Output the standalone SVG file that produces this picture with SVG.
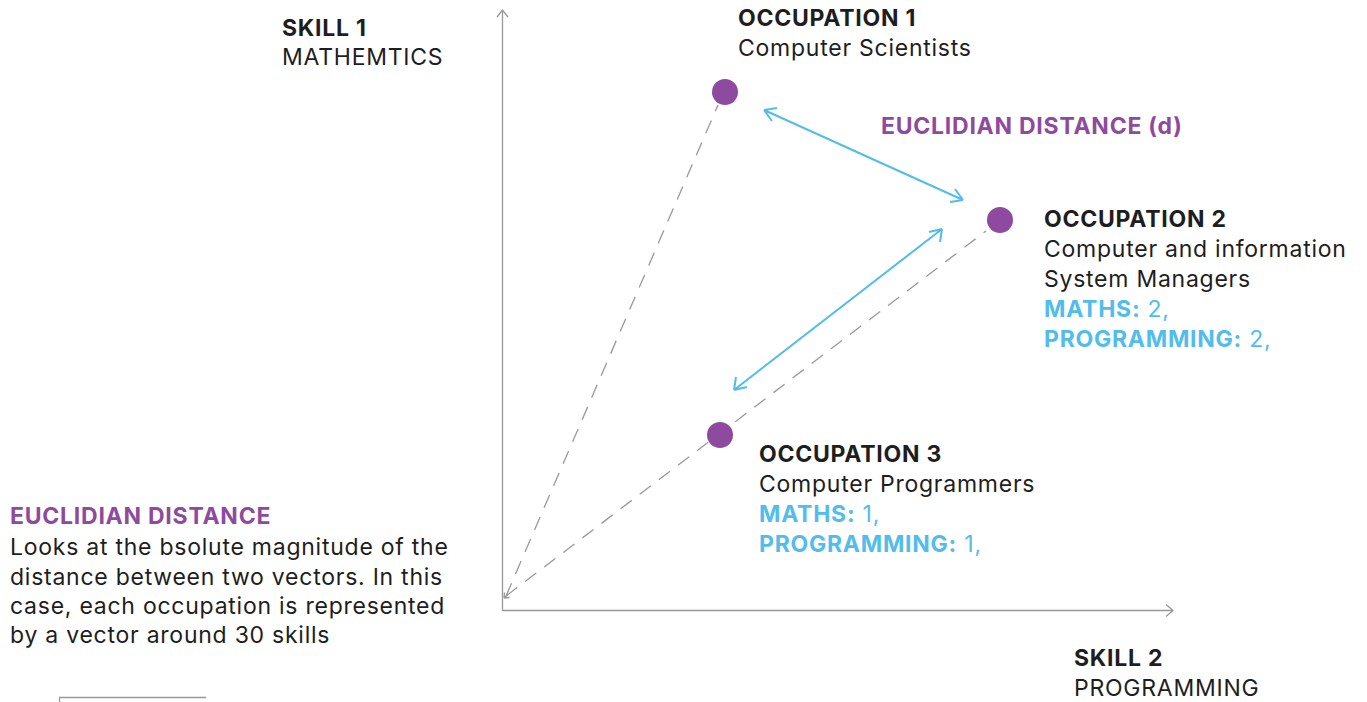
<svg xmlns="http://www.w3.org/2000/svg" width="1367" height="702" viewBox="0 0 1367 702">
<style>
text{font-family:Inter,"Noto Sans",sans-serif;font-size:23px;fill:#1e1e1e;letter-spacing:0.75px}
.b{font-weight:700}
.p{fill:#8e4a9e;font-weight:700}
.c{fill:#52bdeb}
.axis{stroke:#999;stroke-width:1.3;fill:none}
.dash{stroke:#999;stroke-width:1.3;stroke-dasharray:14 10;fill:none}
.blue{stroke:#52bdeb;stroke-width:2;fill:none}
.dot{fill:#8e4a9e}
</style>
<g id="connectors">
<path class="axis" d="M502.5,611 V10 M497,17 L502.5,10 L508,17"/>
<path class="axis" d="M502,610.5 H1173 M1166,604.5 L1173,610.5 L1166,616.5"/>
<path class="dash" d="M506,596 L718,105"/>
<path class="dash" d="M506,596 L986,231"/>
<path class="axis" d="M504,598 L508,594 M504,598 L504.5,592.5 M504,598 L509.5,597.5"/>
<path class="blue" d="M764,110 L963,200 M764,110 L772,121 M764,110 L777,108 M963,200 L950,202 M963,200 L955,189"/>
<path class="blue" d="M942,229 L734,390 M942,229 L929,232 M942,229 L940,242 M734,390 L736,377 M734,390 L747,387"/>
<path class="axis" d="M59.5,702 V697.5 H206"/>
</g>
<g id="axis-labels">
<text x="282" y="36" class="b">SKILL 1</text>
<text x="282" y="65">MATHEMTICS</text>
<text x="1074" y="666" class="b">SKILL 2</text>
<text x="1074" y="696">PROGRAMMING</text>
</g>
<g id="occupation1">
<circle class="dot" cx="725" cy="92" r="13"/>
<text x="738" y="26" class="b">OCCUPATION 1</text>
<text x="738" y="56">Computer Scientists</text>
</g>
<g id="occupation2">
<circle class="dot" cx="1000" cy="220" r="13"/>
<text x="1044" y="227" class="b">OCCUPATION 2</text>
<text x="1044" y="257">Computer and information</text>
<text x="1044" y="287">System Managers</text>
<text x="1044" y="317" class="c"><tspan class="b c">MATHS:</tspan> 2,</text>
<text x="1044" y="347" class="c"><tspan class="b c">PROGRAMMING:</tspan> 2,</text>
</g>
<g id="occupation3">
<circle class="dot" cx="720" cy="435" r="13"/>
<text x="759" y="462" class="b">OCCUPATION 3</text>
<text x="759" y="492">Computer Programmers</text>
<text x="759" y="522" class="c"><tspan class="b c">MATHS:</tspan> 1,</text>
<text x="759" y="552" class="c"><tspan class="b c">PROGRAMMING:</tspan> 1,</text>
</g>
<g id="distance-label">
<text x="881" y="134" class="p">EUCLIDIAN DISTANCE (d)</text>
</g>
<g id="legend">
<text x="10" y="524" class="p">EUCLIDIAN DISTANCE</text>
<text x="10" y="555">Looks at the bsolute magnitude of the</text>
<text x="10" y="585">distance between two vectors. In this</text>
<text x="10" y="614">case, each occupation is represented</text>
<text x="10" y="643">by a vector around 30 skills</text>
</g>
</svg>
